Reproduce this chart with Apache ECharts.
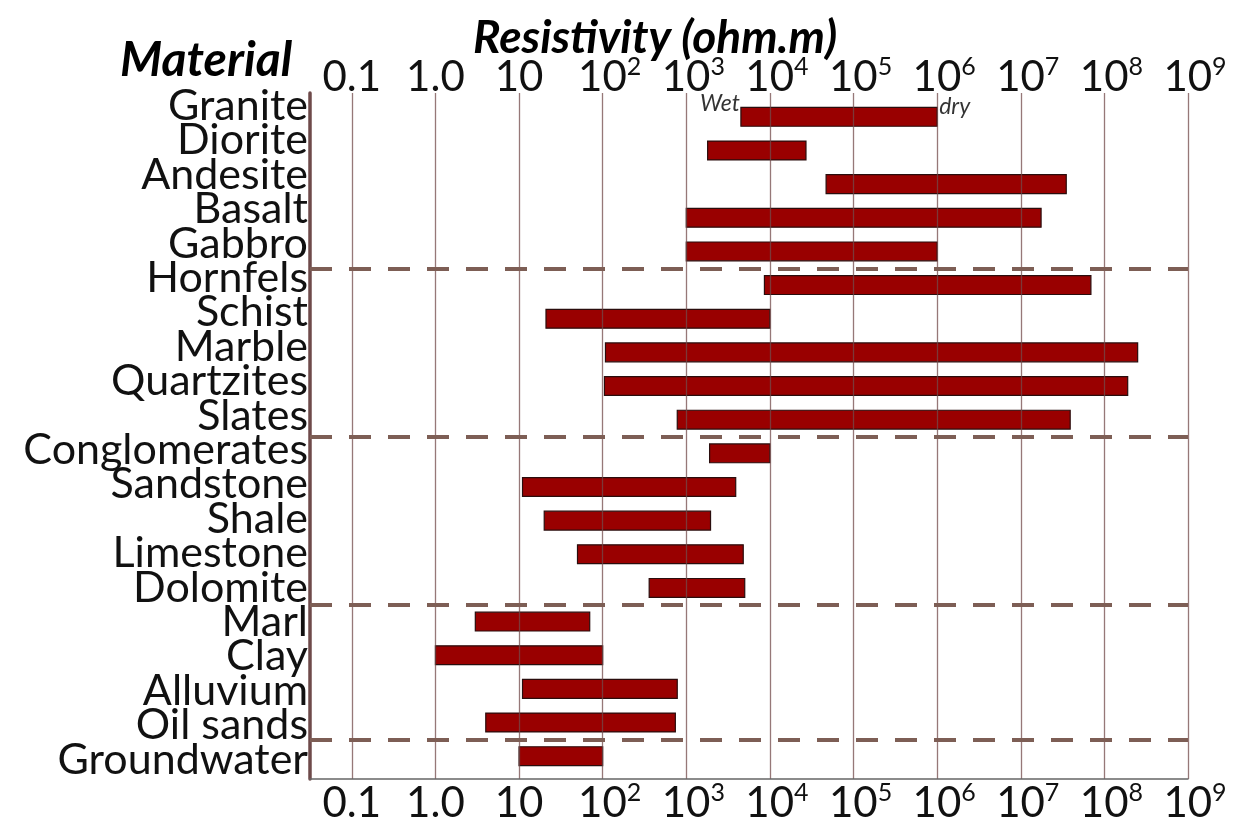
<!DOCTYPE html>
<html>
<head>
<meta charset="utf-8">
<script src="https://cdn.jsdelivr.net/npm/echarts@6/dist/echarts.min.js"></script>
<style>
  html, body { margin: 0; padding: 0; background: #ffffff; }
  #chart { width: 1239px; height: 824px; }
</style>
</head>
<body>
<div id="chart"></div>
<script>
// Resistivity ranges of common rocks and earth materials (ohm.m)
const materials = ['Granite', 'Diorite', 'Andesite', 'Basalt', 'Gabbro',
  'Hornfels', 'Schist', 'Marble', 'Quartzites', 'Slates',
  'Conglomerates', 'Sandstone', 'Shale', 'Limestone', 'Dolomite',
  'Marl', 'Clay', 'Alluvium', 'Oil sands', 'Groundwater'];
const lowResistivity = [4500, 1800, 4.7e4, 1e3, 1e3,
  8600, 21, 108, 105, 780,
  1900, 11, 20, 50, 360,
  3, 1, 11, 4, 10];
const highResistivity = [1e6, 2.7e4, 3.5e7, 1.75e7, 1e6,
  6.9e7, 1e4, 2.5e8, 1.9e8, 3.9e7,
  1e4, 3900, 1950, 4800, 5000,
  70, 100, 780, 740, 100];
// first material of each rock group (dashed separator above it)
const groupStarts = ['Hornfels', 'Conglomerates', 'Marl', 'Groundwater'];
// Granite range notes at its two ends
const granitesNotes = ['Wet', 'dry'];

// Decade ticks and their labels
const tickValues = [0.1, 1, 10, 1e2, 1e3, 1e4, 1e5, 1e6, 1e7, 1e8, 1e9];
const tickBase = ['0.1', '1.0', '10', '10', '10', '10', '10', '10', '10', '10', '10'];
const tickPower = ['', '', '', '2', '3', '4', '5', '6', '7', '8', '9'];

const axisMin = Math.pow(10, -1.5);
const axisMax = 1e9;
const FONT = 'Lato';

function tickLabel(v) {
  const i = tickValues.findIndex(t => Math.abs(Math.log10(t) - Math.log10(v)) < 1e-6);
  if (i < 0) return '';
  if (tickPower[i]) return '{g| }{b|' + tickBase[i] + '}{s|' + tickPower[i] + '}';
  return '{b|' + tickBase[i] + '}';
}
const tickRich = {
  b: { fontFamily: FONT, fontSize: 42, color: '#111', lineHeight: 46 },
  s: { fontFamily: FONT, fontSize: 25, color: '#111', lineHeight: 25, verticalAlign: 'top' },
  g: { width: 14, fontSize: 10 }
};

const bandGrid = { left: 310, right: 51, top: 100, bottom: 51 };

const chart = echarts.init(document.getElementById('chart'), null, { renderer: 'canvas' });

chart.setOption({
  backgroundColor: '#ffffff',
  animation: false,
  title: [
    {
      text: 'Resistivity (ohm.m)', left: 468, top: 10,
      textStyle: { fontFamily: FONT, fontWeight: 'bold', fontStyle: 'italic', fontSize: 46, color: '#000' }
    },
    {
      text: 'Material', left: 115, top: 32,
      textStyle: { fontFamily: FONT, fontWeight: 'bold', fontStyle: 'italic', fontSize: 48, color: '#000' }
    }
  ],
  grid: [
    bandGrid,                                          // bars
    { left: 310, right: 51, top: 93, bottom: 38 },     // frame, decade lines, tick labels
    { left: 310, right: 51, top: 89, bottom: 47 },     // material names
    bandGrid                                           // group separators
  ],
  xAxis: [
    { gridIndex: 0, type: 'log', min: axisMin, max: axisMax, show: false },
    {
      gridIndex: 1, type: 'log', position: 'top', min: axisMin, max: axisMax, z: 5,
      axisLine: { show: true, lineStyle: { color: '#666', width: 1.5 } },
      axisTick: { show: false, customValues: tickValues },
      axisLabel: { show: true, customValues: tickValues, margin: -7, formatter: tickLabel, rich: tickRich },
      splitLine: { show: true, lineStyle: { color: 'rgba(115,75,75,0.75)', width: 1.3 } }
    },
    {
      gridIndex: 1, type: 'log', position: 'bottom', min: axisMin, max: axisMax,
      axisLine: { show: false },
      axisTick: { show: false, customValues: tickValues },
      axisLabel: { show: true, customValues: tickValues, margin: 1, formatter: tickLabel, rich: tickRich },
      splitLine: { show: false }
    },
    { gridIndex: 2, type: 'value', show: false },
    { gridIndex: 3, type: 'value', min: 0, max: 1, show: false }
  ],
  yAxis: [
    {
      gridIndex: 0, type: 'category', inverse: true, data: materials,
      axisLine: { show: false }, axisTick: { show: false }, axisLabel: { show: false },
      splitLine: { show: false }
    },
    {
      gridIndex: 1, type: 'value', min: 0, max: 1,
      axisLine: { show: true, lineStyle: { color: '#6e4a4a', width: 3.5 } },
      axisTick: { show: false }, axisLabel: { show: false }, splitLine: { show: false }
    },
    {
      gridIndex: 2, type: 'category', inverse: true, data: materials,
      axisLine: { show: false }, axisTick: { show: false }, splitLine: { show: false },
      axisLabel: { show: true, interval: 0, margin: 2, fontFamily: FONT, fontSize: 43, color: '#111' }
    },
    {
      gridIndex: 3, type: 'value', inverse: true, min: 0, max: materials.length, show: false
    }
  ],
  series: [
    {
      type: 'custom',
      xAxisIndex: 0, yAxisIndex: 0,
      encode: { x: [1, 2], y: 0 },
      data: materials.map((m, i) => [i, lowResistivity[i], highResistivity[i]]),
      renderItem: function (params, api) {
        const row = api.value(0);
        const a = api.coord([api.value(1), row]);
        const b = api.coord([api.value(2), row]);
        const h = api.size([0, 1])[1] * 0.56;
        return {
          type: 'rect',
          shape: { x: a[0], y: a[1] - h / 2, width: b[0] - a[0], height: h },
          style: { fill: '#990000', stroke: '#2a0d0d', lineWidth: 1.2 }
        };
      },
      z: 2
    },
    {
      // dashed separators between rock groups
      type: 'line',
      xAxisIndex: 4, yAxisIndex: 3,
      data: [],
      silent: true,
      markLine: {
        silent: true,
        symbol: ['none', 'none'],
        label: { show: false },
        lineStyle: { color: '#7d5e55', width: 4, type: [22, 17] },
        data: groupStarts.map(name => ({ yAxis: materials.indexOf(name) }))
      },
      z: 1
    },
    {
      type: 'scatter',
      xAxisIndex: 0, yAxisIndex: 0,
      symbolSize: 0,
      silent: true,
      data: [
        { value: [lowResistivity[0], 0, granitesNotes[0]], label: { align: 'right', offset: [-1, -1] } },
        { value: [highResistivity[0], 0, granitesNotes[1]], label: { align: 'left', offset: [2, 2] } }
      ],
      label: {
        show: true,
        position: [0, 0],
        verticalAlign: 'bottom',
        lineHeight: 24,
        fontFamily: FONT, fontStyle: 'italic', fontSize: 23, color: '#000',
        formatter: p => p.value[2]
      },
      z: 6
    }
  ]
});
</script>
</body>
</html>
